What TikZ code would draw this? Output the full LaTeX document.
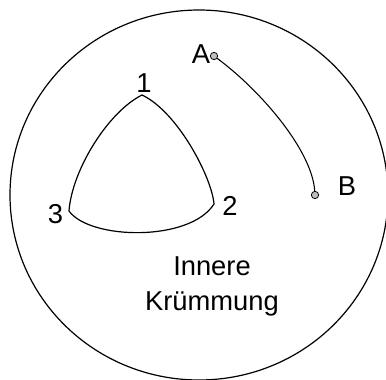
\documentclass[tikz,border=0pt]{standalone}
\usepackage{fontspec}
\setmainfont{Liberation Sans}

\begin{document}
\begin{tikzpicture}[x=0.75pt,y=0.75pt,yscale=-1,xscale=1,
		lbl/.style={anchor=base,inner sep=0pt,font=\fontsize{20.5}{23}\selectfont},
		pt/.style={circle,draw,fill={rgb, 255:red, 190; green, 190; blue, 190 },line width=0.6pt,inner sep=0pt,minimum size=5.5pt}]
				\useasboundingbox (0,0) rectangle (386,379);
				
				%Shape: Ellipse
				\draw [line width=0.9pt] (199,195) ellipse [x radius=189, y radius=185];
				
				%Shape: Polygon Curved
				\coordinate (c1) at (142,95);
				\coordinate (c2) at (214,204);
				\coordinate (c3) at (69,211);
				\draw [line width=0.9pt] (c1) .. controls (178,112) and (212,178) .. (c2) .. controls (190,242) and (90,240) .. (c3) .. controls (72,170) and (108,112) .. (c1) -- cycle ;
				
				%Points A, B
				\node [pt] (ptA) at (214,56) {};
				\node [pt] (ptB) at (315,195) {};
				%Curve Lines
				\draw [line width=0.8pt] (ptA) .. controls (260,90) and (312,150) .. (ptB) ;
				
				%Labels
				\node [lbl] (lA) at (201,63) {A};
				\node [lbl] (lB) at (347,195) {B};
				\node [lbl] (l1) at (144,92) {1};
				\node [lbl] (l2) at (230,215) {2};
				\node [lbl] (l3) at (55.5,223) {3};
				\node [lbl] (inner) at (212,275) {Innere};
				\node [lbl] (kruemm) at (212,310) {Krümmung};
				
				
\end{tikzpicture}
\end{document}
